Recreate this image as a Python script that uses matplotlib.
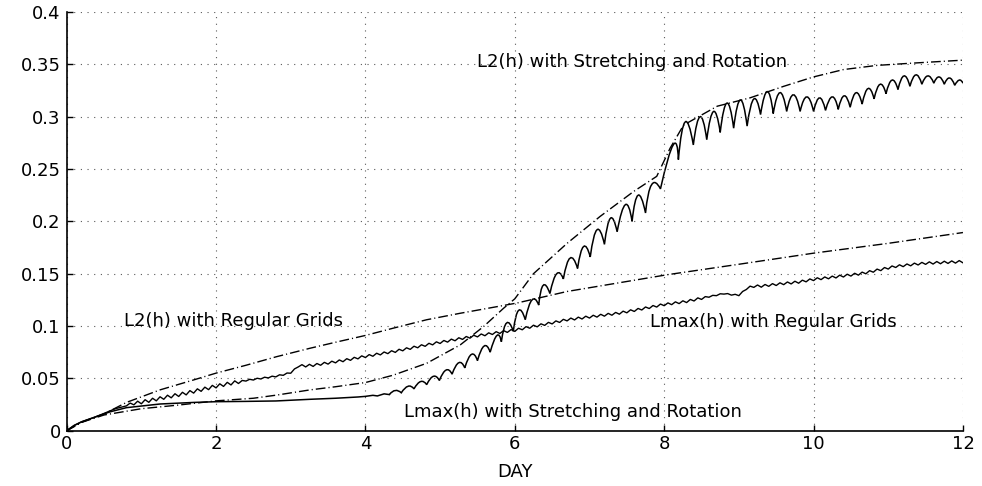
import numpy as np
import matplotlib
matplotlib.use('Agg')
import matplotlib.pyplot as plt
from matplotlib.path import Path
from matplotlib.patches import PathPatch

# L2 error, grid with stretching and rotation
l2_sr_day = [0, 0.2, 0.5, 1.0, 1.5, 2.0, 2.5, 2.81, 3.26, 3.6, 4.0, 4.37, 4.82, 5.27, 5.58, 5.85, 6.0,
             6.25, 6.7, 7.14, 7.59, 7.9, 8.08, 8.26, 8.71, 9.15, 9.6, 10.0, 10.4, 10.85, 11.29, 12.0]
l2_sr = [0, 0.008, 0.015, 0.021, 0.0245, 0.0285, 0.031, 0.034, 0.039, 0.042, 0.046, 0.053, 0.0644, 0.082,
         0.0994, 0.117, 0.126,
         0.150, 0.179, 0.2046, 0.2285, 0.243, 0.270, 0.292, 0.310, 0.318, 0.329, 0.338, 0.345, 0.349, 0.351, 0.354]

# L2 error, regular grid
l2_rg_day = [0, 0.2, 0.5, 0.8, 1.25, 1.7, 2.0, 2.4, 2.81, 3.26, 3.6, 4.0, 4.37, 4.82, 5.27, 5.8, 6.03,
             6.7, 7.37, 8.04, 9.0, 10.0, 11.0, 12.0]
l2_rg = [0, 0.008, 0.016, 0.027, 0.039, 0.0485, 0.055, 0.0625, 0.0707, 0.0788, 0.0845, 0.091, 0.0979, 0.106,
         0.1122, 0.119, 0.122, 0.133, 0.141, 0.149, 0.159, 0.1696, 0.179, 0.1893]

# Lmax error, stretching and rotation: smooth start
lmax_sr_day0 = [0, 0.1, 0.2, 0.36, 0.58, 0.8, 1.25, 1.7, 2.0, 2.4, 2.8, 3.26, 3.6, 3.9, 4.0, 4.1, 4.16, 4.25, 4.32]
lmax_sr0 = [0, 0.005, 0.0085, 0.0125, 0.018, 0.022, 0.0255, 0.027, 0.0277, 0.028, 0.0284, 0.030, 0.031, 0.0322,
            0.0328, 0.0338, 0.0332, 0.0352, 0.0345]
# then dip, crest, dip, crest ... (starts and ends on a dip)
lmax_sr_day1 = [4.32, 4.40, 4.48, 4.57, 4.65, 4.74, 4.82, 4.91, 4.99, 5.08, 5.16, 5.25, 5.33, 5.42, 5.50, 5.59,
                5.67, 5.76, 5.82, 5.89, 5.98,
                6.05, 6.14, 6.23, 6.32, 6.38, 6.47, 6.56, 6.65, 6.74, 6.84, 6.92, 7.01, 7.10, 7.20, 7.28, 7.37,
                7.48, 7.57, 7.65, 7.75, 7.83, 7.95,
                8.12, 8.19, 8.28, 8.39, 8.48, 8.57, 8.66, 8.75, 8.84, 8.93, 9.02, 9.11, 9.20, 9.29, 9.38,
                9.46, 9.55, 9.64, 9.73, 9.82, 9.91,
                10.00, 10.08, 10.16, 10.25, 10.33, 10.41, 10.49, 10.57, 10.65, 10.73, 10.81, 10.89, 10.97, 11.05,
                11.13, 11.21, 11.29, 11.37, 11.45, 11.53, 11.61, 11.68, 11.75, 11.82, 11.89, 11.95, 12.0]
lmax_sr1 = [0.0345, 0.0385, 0.0362, 0.0425, 0.0400, 0.0470, 0.0440, 0.0520, 0.0480, 0.0580, 0.0540, 0.0650,
            0.0600, 0.0730, 0.0670, 0.0810, 0.0750, 0.0910, 0.0850, 0.1030, 0.0950,
            0.1150, 0.1060, 0.1250, 0.1200, 0.1390, 0.1310, 0.1500, 0.1450, 0.1650, 0.1550, 0.1760, 0.1660,
            0.1920, 0.1780, 0.2030, 0.1900, 0.2160, 0.2000, 0.2250, 0.2080, 0.2350, 0.2310,
            0.2730, 0.2590, 0.2950, 0.2730, 0.3000, 0.2780, 0.3050, 0.2850, 0.3130, 0.2890, 0.3160,
            0.2910, 0.3170, 0.3020, 0.3240, 0.3030, 0.3230, 0.3050, 0.3210, 0.3050, 0.3190,
            0.305, 0.318, 0.306, 0.319, 0.307, 0.320, 0.309, 0.323, 0.312, 0.327, 0.317, 0.331, 0.322, 0.335,
            0.326, 0.339, 0.329, 0.340, 0.331, 0.339, 0.332, 0.338, 0.331, 0.337, 0.330, 0.335, 0.332]

# Lmax error, regular grid: smooth start, then dips every 0.1 day from 0.8 and crests in between
lmax_rg_day0 = [0, 0.1, 0.2, 0.36, 0.5, 0.65]
lmax_rg0 = [0, 0.005, 0.0085, 0.0125, 0.0165, 0.021]
lmax_rg_lo = [0.0237, 0.0247, 0.0257, 0.0271, 0.0285, 0.0300, 0.0314, 0.0327, 0.0342, 0.0359,
              0.0376, 0.0392, 0.0409, 0.0423, 0.0437, 0.0451, 0.0474, 0.0484, 0.0494, 0.0504,
              0.0514, 0.0529, 0.0549, 0.0609, 0.0609, 0.0614, 0.0625, 0.0636, 0.0648, 0.0659,
              0.0672, 0.0686, 0.0699, 0.0711, 0.0724, 0.0736, 0.0748, 0.0763, 0.0777, 0.0792,
              0.0806, 0.0820, 0.0833, 0.0846, 0.0859, 0.0872, 0.0884, 0.0896, 0.0907, 0.0919,
              0.0929, 0.0939, 0.0949, 0.0964, 0.0979, 0.0992, 0.1006, 0.1020, 0.1034, 0.1049,
              0.1058, 0.1067, 0.1076, 0.1085, 0.1094, 0.1103, 0.1113, 0.1126, 0.1139, 0.1153,
              0.1167, 0.1181, 0.1194, 0.1204, 0.1214, 0.1224, 0.1239, 0.1254, 0.1275, 0.1290,
              0.1305, 0.1295, 0.1290, 0.1349, 0.1369, 0.1371, 0.1379, 0.1387, 0.1395, 0.1402,
              0.1409, 0.1422, 0.1434, 0.1443, 0.1451, 0.1459, 0.1468, 0.1477, 0.1486, 0.1499,
              0.1514, 0.1529, 0.1544, 0.1559, 0.1567, 0.1575, 0.1583, 0.1589, 0.1592, 0.1595,
              0.1598, 0.1601, 0.1604]
lmax_rg_hi = [0.0264, 0.0282, 0.0296, 0.0310, 0.0324, 0.0339, 0.0353, 0.0367, 0.0383, 0.0400,
              0.0416, 0.0433, 0.0448, 0.0462, 0.0476, 0.0480, 0.0491, 0.0501, 0.0511, 0.0521,
              0.0534, 0.0551, 0.0590, 0.0631, 0.0634, 0.0642, 0.0653, 0.0664, 0.0676, 0.0688,
              0.0701, 0.0715, 0.0727, 0.0740, 0.0752, 0.0764, 0.0778, 0.0792, 0.0807, 0.0821,
              0.0835, 0.0849, 0.0862, 0.0875, 0.0888, 0.0900, 0.0912, 0.0924, 0.0935, 0.0946,
              0.0956, 0.0966, 0.0979, 0.0994, 0.1008, 0.1021, 0.1035, 0.1049, 0.1064, 0.1076,
              0.1085, 0.1094, 0.1103, 0.1112, 0.1121, 0.1130, 0.1142, 0.1155, 0.1168, 0.1182,
              0.1196, 0.1210, 0.1221, 0.1231, 0.1241, 0.1254, 0.1269, 0.1281, 0.1293, 0.1308,
              0.1310, 0.1303, 0.1330, 0.1381, 0.1392, 0.1397, 0.1405, 0.1413, 0.1421, 0.1428,
              0.1438, 0.1450, 0.1461, 0.1469, 0.1477, 0.1486, 0.1495, 0.1504, 0.1515, 0.1529,
              0.1544, 0.1559, 0.1574, 0.1585, 0.1593, 0.1601, 0.1608, 0.1613, 0.1616, 0.1619,
              0.1622, 0.1625]

xticks = [0, 2, 4, 6, 8, 10, 12]
yticks = [0, 0.05, 0.1, 0.15, 0.2, 0.25, 0.3, 0.35, 0.4]
ytick_labels = ['0', '0.05', '0.1', '0.15', '0.2', '0.25', '0.3', '0.35', '0.4']

# build the regular-grid Lmax series: dips and crests alternate
lo_day = np.round(0.8 + 0.1 * np.arange(len(lmax_rg_lo)), 2)
hi_day = lo_day[:-1] + 0.05
rg_day = np.empty(len(lo_day) + len(hi_day))
rg_val = np.empty(len(lo_day) + len(hi_day))
rg_day[0::2] = lo_day
rg_day[1::2] = hi_day
rg_val[0::2] = lmax_rg_lo
rg_val[1::2] = lmax_rg_hi
rg_day = np.concatenate([lmax_rg_day0, rg_day])
rg_val = np.concatenate([lmax_rg0, rg_val])


def scallop_path(days, vals):
    # arches from dip to dip, passing through the crest, cusps at the dips
    pts = np.column_stack([days, vals])
    verts = [pts[0]]
    codes = [Path.MOVETO]
    for i in range(1, len(pts) - 1, 2):
        a, p, b = pts[i - 1], pts[i], pts[i + 1]
        ctrl = 2 * p - (a + b) / 2
        verts += [ctrl, b]
        codes += [Path.CURVE3, Path.CURVE3]
    return Path(verts, codes)


plt.rcParams['font.family'] = ['DejaVu Sans']
plt.rcParams['font.size'] = 13

fig = plt.figure(figsize=(9.82, 4.86), dpi=100)
ax = fig.add_axes([0.0679, 0.1138, 0.9127, 0.8615])

dashdot = (0, (7, 2.2, 0.8, 2.2))
ax.plot(l2_sr_day, l2_sr, color='k', lw=1.0, linestyle=dashdot)
ax.plot(l2_rg_day, l2_rg, color='k', lw=1.0, linestyle=dashdot)
ax.plot(lmax_sr_day0, lmax_sr0, color='k', lw=1.1)
ax.add_patch(PathPatch(scallop_path(lmax_sr_day1, lmax_sr1), fill=False, edgecolor='k', lw=1.1))
ax.plot(rg_day, rg_val, color='k', lw=1.0)

ax.text(7.564, 0.3525, 'L2(h) with Stretching and Rotation', ha='center', va='center')
ax.text(2.232, 0.105, 'L2(h) with Regular Grids', ha='center', va='center')
ax.text(9.463, 0.104, 'Lmax(h) with Regular Grids', ha='center', va='center')
ax.text(6.78, 0.0179, 'Lmax(h) with Stretching and Rotation', ha='center', va='center')

ax.set_xlim(0, 12)
ax.set_ylim(0, 0.4)
ax.set_xticks(xticks)
ax.set_xticklabels([str(t) for t in xticks])
ax.set_yticks(yticks)
ax.set_yticklabels(ytick_labels)
ax.set_xlabel('DAY', labelpad=7)

ax.grid(True, color='0.35', linestyle=(0, (1, 5)), lw=0.8)
ax.spines['top'].set_visible(False)
ax.spines['right'].set_visible(False)
ax.spines['left'].set_linewidth(1.2)
ax.spines['bottom'].set_linewidth(1.2)
ax.tick_params(direction='in', length=4, width=1.0)
ax.tick_params(axis='y', pad=4.3)
ax.tick_params(axis='x', pad=3)

fig.savefig('out.png', dpi=100)
